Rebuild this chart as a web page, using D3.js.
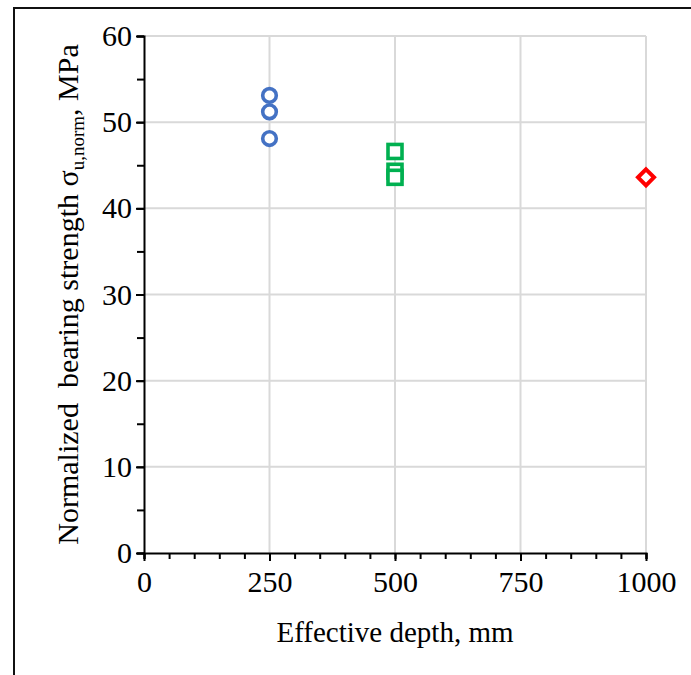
<!DOCTYPE html>
<html>
<head>
<meta charset="utf-8">
<script src="https://cdn.jsdelivr.net/npm/d3@7/dist/d3.min.js"></script>
<style>
    body { margin: 0; background: #fff; }
    text { font-family: "Liberation Serif", "Times New Roman", serif; fill: #000; }
</style>
</head>
<body>
<div id="chart"></div>
<script>
// effective depth (mm) and normalized bearing strength (MPa), one pair of arrays per series
var depth250 = [250, 250, 250];
var strength250 = [53.1, 51.2, 48.1];
var depth500 = [500, 500, 500];
var strength500 = [46.6, 44.3, 43.6];
var depth1000 = [1000];
var strength1000 = [43.6];

var xTicks = [0, 250, 500, 750, 1000];
var yTicks = [0, 10, 20, 30, 40, 50, 60];

var width = 691, height = 675;
var margin = { left: 144, top: 36, right: 45, bottom: 122 };

var svg = d3.select('#chart').append('svg')
    .attr('width', width)
    .attr('height', height);

// outer frame (runs past the right and bottom edge of the picture)
svg.append('rect')
    .attr('x', 14).attr('y', 8)
    .attr('width', 720).attr('height', 720)
    .attr('fill', 'none')
    .attr('stroke', '#111')
    .attr('stroke-width', 2);

var x = d3.scaleLinear().domain([0, 1000]).range([margin.left, width - margin.right]);
var y = d3.scaleLinear().domain([0, 60]).range([height - margin.bottom, margin.top]);

// gridlines
svg.append('g')
    .selectAll('line.vg')
    .data(xTicks.slice(1))
    .enter().append('line')
    .attr('x1', function (d) { return x(d); })
    .attr('x2', function (d) { return x(d); })
    .attr('y1', y(0)).attr('y2', y(60))
    .attr('stroke', '#d9d9d9').attr('stroke-width', 2);

svg.append('g')
    .selectAll('line.hg')
    .data(yTicks.slice(1))
    .enter().append('line')
    .attr('x1', x(0)).attr('x2', x(1000))
    .attr('y1', function (d) { return y(d); })
    .attr('y2', function (d) { return y(d); })
    .attr('stroke', '#d9d9d9').attr('stroke-width', 2);

// minor ticks
var xAxisMinor = d3.axisBottom(x).tickValues(d3.range(0, 1001, 50)).tickSize(6).tickFormat('');
var yAxisMinor = d3.axisLeft(y).tickValues(d3.range(0, 61, 5)).tickSize(7).tickFormat('');

var gxm = svg.append('g').attr('transform', 'translate(0,' + y(0) + ')').call(xAxisMinor);
var gym = svg.append('g').attr('transform', 'translate(' + x(0) + ',0)').call(yAxisMinor);
[gxm, gym].forEach(function (g) {
    g.select('.domain').attr('stroke', '#000').attr('stroke-width', 2);
    g.selectAll('.tick line').attr('stroke', '#000').attr('stroke-width', 2);
});

// major ticks + labels
var xAxis = d3.axisBottom(x).tickValues(xTicks).tickSize(8).tickPadding(10).tickFormat(d3.format('d'));
var yAxis = d3.axisLeft(y).tickValues(yTicks).tickSize(8).tickPadding(4).tickFormat(d3.format('d'));

var gx = svg.append('g').attr('transform', 'translate(0,' + y(0) + ')').call(xAxis);
var gy = svg.append('g').attr('transform', 'translate(' + x(0) + ',0)').call(yAxis);
[gx, gy].forEach(function (g) {
    g.select('.domain').remove();
    g.selectAll('.tick line').attr('stroke', '#000').attr('stroke-width', 2);
    g.selectAll('.tick text')
        .attr('fill', '#000')
        .style('font-family', '"Liberation Serif", serif')
        .style('font-size', '30px');
});

// series
var pts250 = depth250.map(function (d, i) { return [d, strength250[i]]; });
var pts500 = depth500.map(function (d, i) { return [d, strength500[i]]; });
var pts1000 = depth1000.map(function (d, i) { return [d, strength1000[i]]; });

svg.append('g').selectAll('circle')
    .data(pts250)
    .enter().append('circle')
    .attr('cx', function (d) { return x(d[0]); })
    .attr('cy', function (d) { return y(d[1]); })
    .attr('r', 6.8)
    .attr('fill', '#fff')
    .attr('stroke', '#4472C4')
    .attr('stroke-width', 3.6);

svg.append('g').selectAll('rect')
    .data(pts500)
    .enter().append('rect')
    .attr('x', function (d) { return x(d[0]) - 7; })
    .attr('y', function (d) { return y(d[1]) - 7; })
    .attr('width', 14).attr('height', 14)
    .attr('fill', '#fff')
    .attr('stroke', '#00B050')
    .attr('stroke-width', 3.6);

svg.append('g').selectAll('path')
    .data(pts1000)
    .enter().append('path')
    .attr('transform', function (d) { return 'translate(' + x(d[0]) + ',' + y(d[1]) + ')'; })
    .attr('d', 'M0,-8L8,0L0,8L-8,0Z')
    .attr('fill', '#fff')
    .attr('stroke', '#FF0000')
    .attr('stroke-width', 4);

// axis titles
svg.append('text')
    .attr('x', (x(0) + x(1000)) / 2)
    .attr('y', 642)
    .attr('text-anchor', 'middle')
    .style('font-size', '29px')
    .text('Effective depth, mm');

var yt = svg.append('text')
    .attr('transform', 'translate(78,' + (y(0) + y(60)) / 2 + ') rotate(-90)')
    .attr('text-anchor', 'middle')
    .style('white-space', 'pre')
    .style('font-size', '30px');
yt.append('tspan').text('Normalized  bearing strength \u03c3');
yt.append('tspan').attr('dy', 6).style('font-size', '19px').text('u,norm');
yt.append('tspan').attr('dy', -6).text(', MPa');
</script>
</body>
</html>
